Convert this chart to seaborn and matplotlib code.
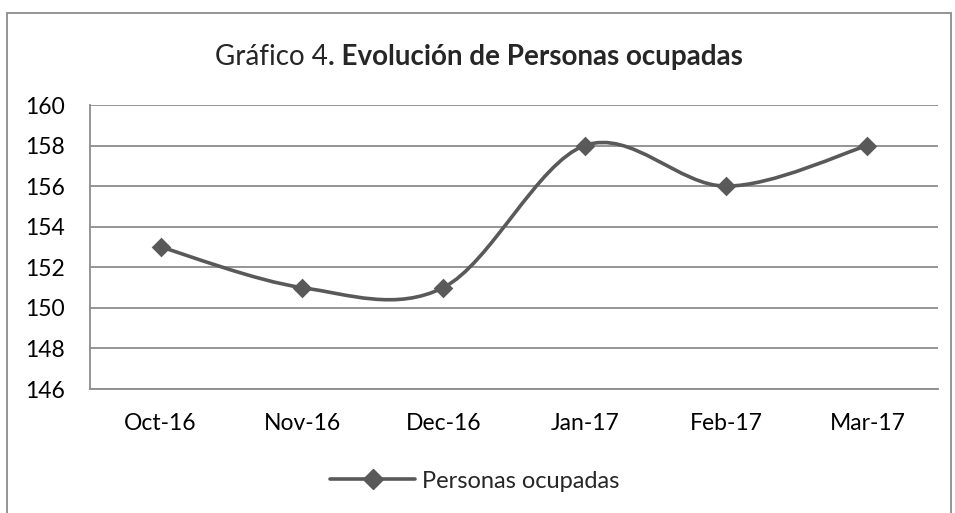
import numpy as np
import pandas as pd
import matplotlib
matplotlib.use("Agg")
import matplotlib.pyplot as plt
import seaborn as sns
from matplotlib.path import Path
from matplotlib.patches import PathPatch, Rectangle
from matplotlib.lines import Line2D

months = ["Oct-16", "Nov-16", "Dec-16", "Jan-17", "Feb-17", "Mar-17"]
personas = [153, 151, 151, 158, 156, 158]
y_ticks = [146, 148, 150, 152, 154, 156, 158, 160]
series_name = "Personas ocupadas"

sns.set_theme(style="white")
plt.rcParams["font.family"] = ["Lato", "DejaVu Sans"]

W, H = 955, 513
fig = plt.figure(figsize=(W / 100, H / 100), dpi=100)
ax = fig.add_axes([90 / W, 1 - 389 / H, (938 - 90) / W, (389 - 105) / H])

df = pd.DataFrame({"x": np.arange(len(months)), "y": personas})
col = "#595959"

# smoothed line (Excel-style Catmull-Rom Bezier through the data points)
xs = df["x"].to_numpy(float)
ys = df["y"].to_numpy(float)
n = len(xs)
verts = [(xs[0], ys[0])]
codes = [Path.MOVETO]
for i in range(n - 1):
    p0 = np.array([xs[max(i - 1, 0)], ys[max(i - 1, 0)]])
    p1 = np.array([xs[i], ys[i]])
    p2 = np.array([xs[i + 1], ys[i + 1]])
    p3 = np.array([xs[min(i + 2, n - 1)], ys[min(i + 2, n - 1)]])
    c1 = p1 + (p2 - p0) / 6.0
    c2 = p2 - (p3 - p1) / 6.0
    verts += [tuple(c1), tuple(c2), tuple(p2)]
    codes += [Path.CURVE4] * 3
ax.add_patch(PathPatch(Path(verts, codes), fill=False, edgecolor=col, lw=2.6,
                       capstyle="round", joinstyle="round", zorder=3))

sns.scatterplot(data=df, x="x", y="y", marker="D", s=100, color=col,
                edgecolor=col, linewidth=0, ax=ax, zorder=4, legend=False)

ax.set_xlim(-0.5, len(months) - 0.5)
ax.set_ylim(146, 160)
ax.set_yticks(y_ticks)
ax.set_xticks(range(len(months)))
ax.set_xticklabels(months)
ax.set_xlabel("")
ax.set_ylabel("")
ax.tick_params(axis="both", length=0, labelsize=16.5, colors="black")
ax.tick_params(axis="y", pad=18)
ax.tick_params(axis="x", pad=17)
ax.yaxis.grid(True, color="#8c8c8c", lw=1.3)
ax.xaxis.grid(False)
for s in ["top", "right"]:
    ax.spines[s].set_visible(False)
for s in ["left", "bottom"]:
    ax.spines[s].set_color("#8c8c8c")
    ax.spines[s].set_linewidth(1.3)

# figure border
fig.add_artist(Rectangle((7 / W, -0.05), (951 - 7) / W, 1 - 13 / H + 0.05,
                         transform=fig.transFigure, fill=False,
                         edgecolor="#8c8c8c", lw=1.3))

# mixed-weight title
fig.canvas.draw()
r = fig.canvas.get_renderer()
ty = 1 - 57 / H
t1 = fig.text(0, ty, "Gráfico 4", fontsize=20, va="center", ha="left")
t2 = fig.text(0, ty, ". Evolución de Personas ocupadas", fontsize=20,
              fontweight="bold", va="center", ha="left")
w1 = t1.get_window_extent(r).width
w2 = t2.get_window_extent(r).width
x0 = 479 - (w1 + w2) / 2
t1.set_x(x0 / W)
t2.set_x((x0 + w1) / W)

handle = Line2D([], [], color=col, lw=2.6, marker="D", markersize=10,
                solid_capstyle="round")
fig.legend([handle], [series_name], loc="center", bbox_to_anchor=(475 / W, 1 - 481 / H),
           frameon=False, fontsize=17, handlelength=3.6, handletextpad=0.3)

fig.savefig("out.png", dpi=100)
